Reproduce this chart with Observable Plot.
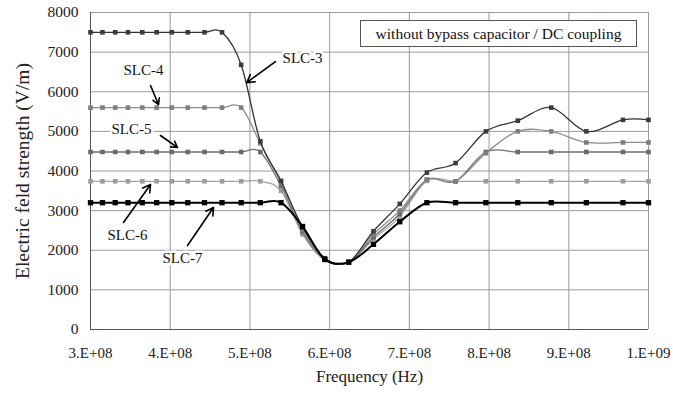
<!DOCTYPE html>
<html>
<head>
<meta charset="utf-8">
<script src="https://cdn.jsdelivr.net/npm/d3@7"></script>
<script src="https://cdn.jsdelivr.net/npm/@observablehq/plot@0.6"></script>
<style>
  html, body { margin: 0; padding: 0; background: #fff; }
  #wrap { position: relative; width: 673px; height: 394px; }
  #note {
    position: absolute; left: 360px; top: 20px; width: 277px; height: 27px;
    border: 1px solid #555; background: #fff; box-sizing: border-box;
    font-family: "Liberation Serif", "Times New Roman", serif; font-size: 15.5px; color: #111;
    display: flex; align-items: center; justify-content: center; white-space: nowrap;
  }
</style>
</head>
<body>
<div id="wrap"><div id="note">without bypass capacitor / DC coupling</div></div>
<script>
// Frequencies (Hz)
const freq = [3.00e8, 3.15e8, 3.31e8, 3.47e8, 3.65e8, 3.83e8, 4.02e8, 4.22e8, 4.43e8, 4.65e8,
              4.89e8, 5.13e8, 5.39e8, 5.66e8, 5.94e8, 6.24e8, 6.55e8, 6.88e8, 7.22e8, 7.58e8,
              7.96e8, 8.36e8, 8.78e8, 9.22e8, 9.68e8, 10.0e8];
// Electric field strength (V/m)
const slc3 = [7500, 7500, 7500, 7500, 7500, 7500, 7500, 7500, 7500, 7500,
              6680, 4750, 3750, 2580, 1800, 1700, 2480, 3170, 3960, 4200,
              5000, 5270, 5600, 5000, 5290, 5290];
const slc4 = [5600, 5600, 5600, 5600, 5600, 5600, 5600, 5600, 5600, 5600,
              5600, 4700, 3700, 2520, 1780, 1700, 2400, 3000, 3780, 3740,
              4450, 5000, 5000, 4720, 4720, 4720];
const slc5 = [4480, 4480, 4480, 4480, 4480, 4480, 4480, 4480, 4480, 4480,
              4480, 4480, 3620, 2470, 1760, 1700, 2330, 2920, 3780, 3740,
              4480, 4480, 4480, 4480, 4480, 4480];
const slc6 = [3740, 3740, 3740, 3740, 3740, 3740, 3740, 3740, 3740, 3740,
              3740, 3740, 3500, 2400, 1750, 1700, 2280, 2850, 3750, 3740,
              3740, 3740, 3740, 3740, 3740, 3740];
const slc7 = [3200, 3200, 3200, 3200, 3200, 3200, 3200, 3200, 3200, 3200,
              3200, 3200, 3200, 2600, 1770, 1700, 2150, 2720, 3200, 3200,
              3200, 3200, 3200, 3200, 3200, 3200];
const seriesNames = ["SLC-3", "SLC-4", "SLC-5", "SLC-6", "SLC-7"];
const xTicks = [3e8, 4e8, 5e8, 6e8, 7e8, 8e8, 9e8, 1e9];
const xTickLabels = ["3.E+08", "4.E+08", "5.E+08", "6.E+08", "7.E+08", "8.E+08", "9.E+08", "1.E+09"];
const yTicks = [0, 1000, 2000, 3000, 4000, 5000, 6000, 7000, 8000];
const xTitle = "Frequency (Hz)";
const yTitle = "Electric feld strength (V/m)";

const values = {"SLC-3": slc3, "SLC-4": slc4, "SLC-5": slc5, "SLC-6": slc6, "SLC-7": slc7};
const rows = seriesNames.flatMap(s => freq.map((f, i) => ({series: s, f, v: values[s][i]})));

const styles = {
  "SLC-6": {line: "#a3a3a3", dot: "#9c9c9c", w: 1.3, r: 2.6},
  "SLC-5": {line: "#6f6f6f", dot: "#6a6a6a", w: 1.3, r: 2.6},
  "SLC-4": {line: "#8c8c8c", dot: "#7e7e7e", w: 1.3, r: 2.6},
  "SLC-3": {line: "#333333", dot: "#3c3c3c", w: 1.3, r: 2.6},
  "SLC-7": {line: "#000000", dot: "#000000", w: 2.0, r: 3.0}
};
const order = ["SLC-6", "SLC-5", "SLC-4", "SLC-3", "SLC-7"];

// annotations (label position and arrow in data units)
const notes = [
  {label: "SLC-3", f: 5.66e8, v: 6840, f1: 5.32e8, v1: 6760, f2: 4.96e8, v2: 6230},
  {label: "SLC-4", f: 3.665e8, v: 6536, f1: 3.753e8, v1: 6158, f2: 3.853e8, v2: 5678},
  {label: "SLC-5", f: 3.514e8, v: 5047, f1: 3.878e8, v1: 4896, f2: 4.091e8, v2: 4593},
  {label: "SLC-6", f: 3.464e8, v: 2372, f1: 3.414e8, v1: 2700, f2: 3.753e8, v2: 3659},
  {label: "SLC-7", f: 4.154e8, v: 1792, f1: 4.217e8, v1: 2120, f2: 4.543e8, v2: 3079}
];

const marks = [
  Plot.ruleY(yTicks, {stroke: "#9a9a9a", strokeWidth: 1}),
  Plot.ruleX(xTicks, {stroke: "#9a9a9a", strokeWidth: 1}),
  Plot.ruleX([3e8], {stroke: "#555", strokeWidth: 1}),
  Plot.ruleY([0], {stroke: "#555", strokeWidth: 1.2}),
  Plot.axisX({ticks: xTicks, tickSize: 0, tickPadding: 18, tickFormat: d => xTickLabels[xTicks.indexOf(d)], fontSize: 15, label: null}),
  Plot.axisY({ticks: yTicks, tickSize: 0, tickPadding: 12, tickFormat: d => String(d), fontSize: 15.5, label: null}),
  Plot.text([xTitle], {frameAnchor: "bottom", dy: 52, fontSize: 17, fill: "#222", textAnchor: "middle"}),
  Plot.text([yTitle], {frameAnchor: "left", dx: -68, rotate: -90, fontSize: 19.5, fill: "#222", textAnchor: "middle"})
];
for (const s of order) {
  const st = styles[s];
  const d = rows.filter(r => r.series === s);
  marks.push(Plot.line(d, {x: "f", y: "v", stroke: st.line, strokeWidth: st.w, curve: "cardinal", tension: 0}));
  marks.push(Plot.dot(d, {x: "f", y: "v", symbol: "square", r: st.r, fill: st.dot, stroke: "none"}));
}
marks.push(Plot.arrow(notes, {x1: "f1", y1: "v1", x2: "f2", y2: "v2", stroke: "#000", strokeWidth: 1.6, headLength: 8, bend: false}));
marks.push(Plot.text(notes, {x: "f", y: "v", text: "label", fontSize: 15, fill: "#111", stroke: "white", strokeWidth: 5, paintOrder: "stroke"}));

const chart = Plot.plot({
  width: 673, height: 394,
  marginLeft: 90, marginRight: 25, marginTop: 12, marginBottom: 65,
  x: {type: "linear", domain: [3e8, 1e9]},
  y: {type: "linear", domain: [0, 8000]},
  style: {fontFamily: "'Liberation Serif', 'Times New Roman', serif", fontSize: "13px", background: "white", color: "#222"},
  marks
});
document.getElementById("wrap").prepend(chart);
</script>
</body>
</html>
